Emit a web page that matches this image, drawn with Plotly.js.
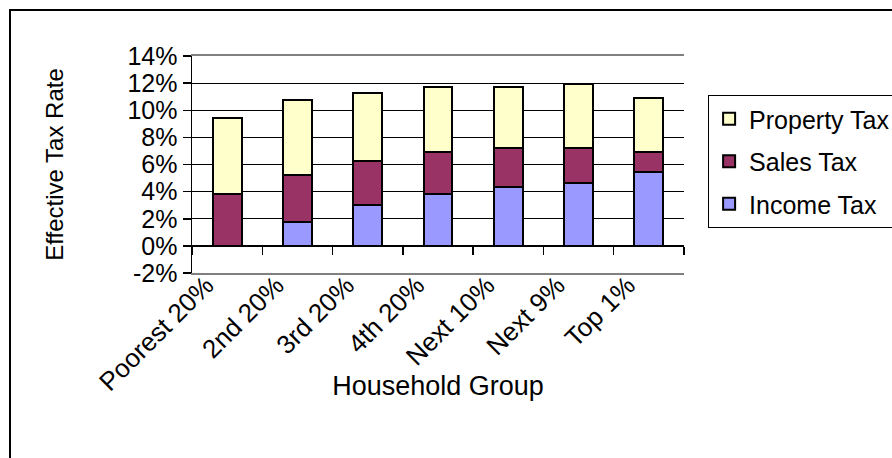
<!DOCTYPE html>
<html>
<head>
<meta charset="utf-8">
<script src="https://cdn.plot.ly/plotly-3.0.1.min.js"></script>
<style>
  html, body { margin: 0; padding: 0; background: #ffffff; overflow: hidden; }
  #chart { width: 892px; height: 458px; }
</style>
</head>
<body>
<div id="chart"></div>
<script>
// Data (percent of income)
const categories = ["Poorest 20%", "2nd 20%", "3rd 20%", "4th 20%", "Next 10%", "Next 9%", "Top 1%"];
const incomeTax   = [0.0, 1.75, 3.05, 3.8, 4.35, 4.65, 5.45];
const salesTax    = [3.8, 3.5, 3.2, 3.1, 2.85, 2.55, 1.45];
const propertyTax = [5.65, 5.5, 5.0, 4.8, 4.55, 4.7, 4.0];
const yTicks = [-2, 0, 2, 4, 6, 8, 10, 12, 14];
const yTickText = yTicks.map(v => v + "%");

const FONT = "Liberation Sans, Arial, sans-serif";
const barLine = { color: "#000000", width: 2 };
const idx = categories.map((c, i) => i);
const xRange = [-0.5, categories.length - 0.5];

const traces = [
  { type: "bar", name: "Income Tax", x: idx, y: incomeTax, legendgroup: "income", legendrank: 3,
    marker: { color: "#9999FF", line: barLine } },
  { type: "bar", name: "Sales Tax", x: idx, y: salesTax, legendgroup: "sales", legendrank: 2,
    marker: { color: "#993366", line: barLine } },
  { type: "bar", name: "Property Tax", x: idx, y: propertyTax, legendgroup: "property", legendrank: 1,
    marker: { color: "#FFFFCC", line: barLine } },
  // invisible helpers so the overlay axes are drawn
  { type: "scatter", x: [0], y: [0], xaxis: "x2", yaxis: "y", mode: "markers",
    marker: { opacity: 0 }, showlegend: false, hoverinfo: "skip" },
  { type: "scatter", x: [0], y: [0], xaxis: "x3", yaxis: "y", mode: "markers",
    marker: { opacity: 0 }, showlegend: false, hoverinfo: "skip" }
];

const boundaries = [];
for (let i = 0; i <= categories.length; i++) boundaries.push(i - 0.5);

const layout = {
  width: 892, height: 458,
  margin: { l: 192, r: 208, t: 56, b: 185, autoexpand: false },
  paper_bgcolor: "#ffffff",
  plot_bgcolor: "#ffffff",
  barmode: "stack",
  bargap: 0.59,
  showlegend: true,
  font: { family: FONT, size: 25, color: "#000000" },
  xaxis: {
    type: "linear",
    range: xRange,
    showticklabels: false,
    ticks: "",
    showgrid: false, zeroline: false,
    showline: true, linecolor: "#808080", linewidth: 2, mirror: true,
    title: { text: "Household Group", font: { family: FONT, size: 27, color: "#000000" }, standoff: 102 },
    automargin: false,
    fixedrange: true
  },
  xaxis2: {
    type: "linear",
    overlaying: "x",
    anchor: "free",
    position: 0.125,
    side: "bottom",
    range: xRange,
    tickvals: boundaries,
    showticklabels: false,
    ticks: "outside", ticklen: 8, tickwidth: 1.5, tickcolor: "#000000",
    showline: true, linecolor: "#000000", linewidth: 1.5,
    showgrid: false, zeroline: false,
    fixedrange: true
  },
  xaxis3: {
    type: "linear",
    overlaying: "x",
    anchor: "free",
    position: 0,
    side: "bottom",
    range: xRange,
    tickvals: idx.map(i => i - 0.3), ticktext: categories,
    tickangle: -45,
    ticks: "",
    ticklabelstandoff: -9,
    showline: false, showgrid: false, zeroline: false,
    tickfont: { family: FONT, size: 26, color: "#000000" },
    automargin: false,
    fixedrange: true
  },
  yaxis: {
    range: [-2, 14],
    tickvals: yTicks, ticktext: yTickText,
    ticks: "outside", ticklen: 8, tickwidth: 1.5, tickcolor: "#000000",
    showgrid: true, gridcolor: "#000000", gridwidth: 1,
    zeroline: false,
    showline: true, linecolor: "#000000", linewidth: 1.5,
    tickfont: { family: FONT, size: 25, color: "#000000" },
    title: { text: "Effective Tax Rate", font: { family: FONT, size: 24, color: "#000000" }, standoff: 57 },
    automargin: false,
    fixedrange: true
  },
  legend: {
    x: 1.049, xanchor: "left",
    y: 0.82, yanchor: "top",
    traceorder: "grouped",
    tracegroupgap: 7,
    bgcolor: "#ffffff",
    bordercolor: "#000000", borderwidth: 1,
    font: { family: FONT, size: 25, color: "#000000" },
    itemwidth: 30
  },
  shapes: [
    { type: "rect", xref: "paper", yref: "paper",
      x0: (10 - 192) / 492, x1: 1.6, y0: -1.2, y1: (273 - 10) / 217,
      line: { color: "#000000", width: 2 }, fillcolor: "rgba(0,0,0,0)", layer: "below" }
  ]
};

Plotly.newPlot("chart", traces, layout, { staticPlot: true, displayModeBar: false });
</script>
</body>
</html>
